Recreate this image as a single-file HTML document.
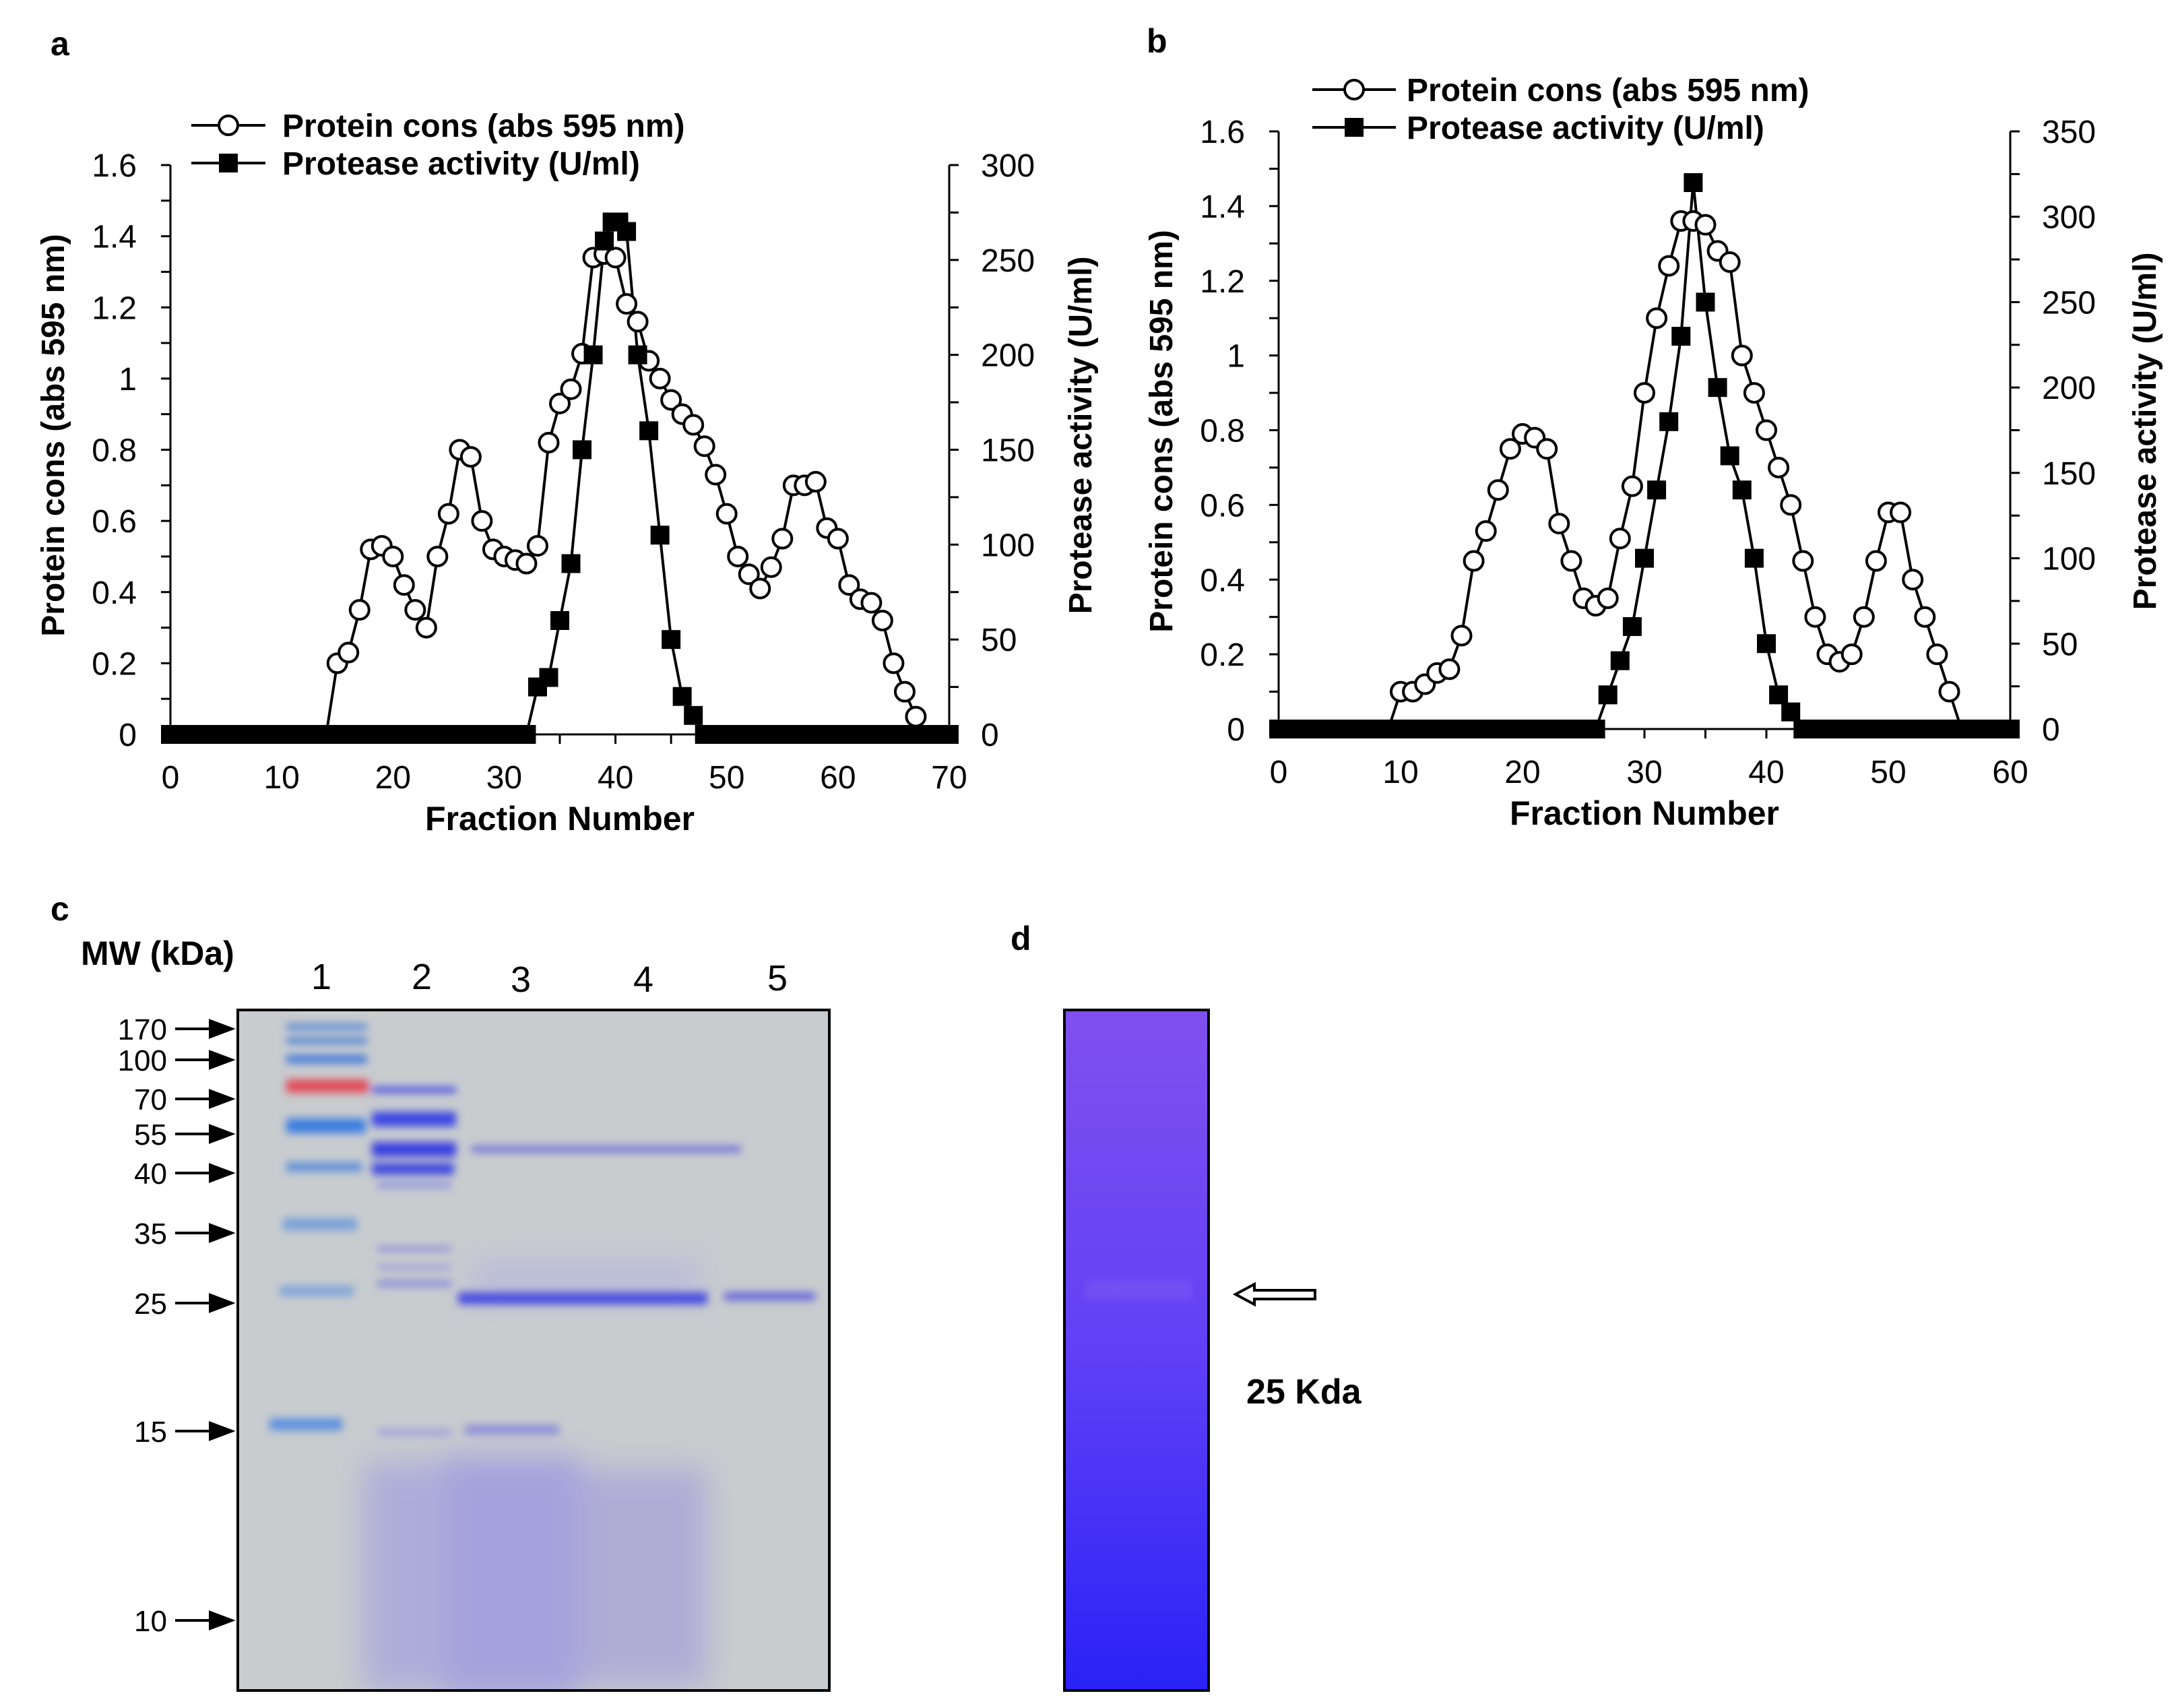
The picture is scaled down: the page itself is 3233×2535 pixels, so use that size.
<!DOCTYPE html>
<html><head><meta charset="utf-8"><style>
html,body{margin:0;padding:0;background:#fff;}
svg{display:block;font-family:"Liberation Sans",Arial,sans-serif;}
</style></head><body>
<svg id="fig" width="3233" height="2535" viewBox="0 0 3233 2535" xmlns="http://www.w3.org/2000/svg">
<defs>
<filter id="blur6" x="-20%" y="-200%" width="140%" height="500%"><feGaussianBlur stdDeviation="6"/></filter>
<filter id="blur20" x="-30%" y="-30%" width="160%" height="160%"><feGaussianBlur stdDeviation="22"/></filter>
<linearGradient id="gelD" x1="0" y1="0" x2="0" y2="1">
<stop offset="0" stop-color="#8050ee"/><stop offset="0.5" stop-color="#6040f6"/><stop offset="1" stop-color="#2a22f6"/>
</linearGradient>
</defs>
<g id="chartA"></g>
<g id="chartB"></g>

<!-- panel c -->
<g>
<text x="75" y="1366" font-size="50" font-weight="bold">c</text>
<text x="120" y="1432" font-size="50" font-weight="bold">MW (kDa)</text>
<g font-size="54" text-anchor="middle">
<text x="477" y="1468">1</text>
<text x="626" y="1468">2</text>
<text x="773" y="1472">3</text>
<text x="955" y="1472">4</text>
<text x="1154" y="1470">5</text>
</g>
<rect x="353" y="1499" width="878" height="1010" fill="#c8cccf"/>
<g clip-path="url(#gelClip)">
<clipPath id="gelClip"><rect x="353" y="1499" width="878" height="1010"/></clipPath>
<g filter="url(#blur20)" opacity="0.8">
<rect x="540" y="2170" width="150" height="340" fill="#a8a6dc"/>
<rect x="660" y="2160" width="200" height="360" fill="#9c98e0"/>
<rect x="860" y="2180" width="190" height="320" fill="#a9a5d8"/>
<rect x="700" y="1870" width="340" height="60" fill="#b8b8dc"/>
</g>
<g filter="url(#blur6)">
<rect x="425" y="1520" width="120" height="8" fill="#4a7fd6"/>
<rect x="425" y="1540" width="120" height="9" fill="#4a7fd6"/>
<rect x="425" y="1566" width="120" height="12" fill="#3f78d8"/>
<rect x="425" y="1602" width="122" height="20" fill="#e24c5a"/>
<rect x="425" y="1660" width="118" height="22" fill="#3e7ee0"/>
<rect x="425" y="1725" width="112" height="14" fill="#5f8fd8"/>
<rect x="420" y="1808" width="110" height="18" fill="#78a0d8"/>
<rect x="415" y="1908" width="110" height="16" fill="#84a6d8"/>
<rect x="400" y="2105" width="108" height="18" fill="#5b90e0"/>
<rect x="552" y="1613" width="125" height="9" fill="#4a50e0"/>
<rect x="552" y="1650" width="125" height="22" fill="#3e46e4"/>
<rect x="552" y="1695" width="125" height="22" fill="#3a40e0"/>
<rect x="552" y="1726" width="122" height="18" fill="#4048e0"/>
<rect x="560" y="1755" width="110" height="8" fill="#8a8ee0"/>
<rect x="560" y="1850" width="110" height="7" fill="#8a8ad8"/>
<rect x="560" y="1877" width="110" height="7" fill="#9a9ad8"/>
<rect x="560" y="1900" width="110" height="10" fill="#8a8ed8"/>
<rect x="560" y="2121" width="110" height="10" fill="#a0a2dc"/>
<rect x="700" y="1701" width="400" height="9" fill="#6a6ad8"/>
<rect x="680" y="1918" width="370" height="18" fill="#4a4ee0"/>
<rect x="1075" y="1918" width="135" height="12" fill="#6464dc"/>
<rect x="690" y="2115" width="140" height="14" fill="#8c8cd8"/>
</g>
</g>
<rect x="353" y="1499" width="878" height="1010" fill="none" stroke="#000" stroke-width="4"/>
<g id="mwMarkers" font-size="44"></g>
</g>

<!-- panel d -->
<g>
<text x="1500" y="1410" font-size="50" font-weight="bold">d</text>
<rect x="1580" y="1499" width="214" height="1010" fill="url(#gelD)" stroke="#000" stroke-width="4"/>
<rect x="1610" y="1900" width="160" height="30" fill="#8a66f0" opacity="0.35" filter="url(#blur6)"/>
<path d="M1834,1921 L1862,1906 L1862,1915 L1952,1915 L1952,1928 L1862,1928 L1862,1936 Z" fill="#fff" stroke="#000" stroke-width="4"/>
<text x="1850" y="2083" font-size="52" font-weight="bold">25 Kda</text>
</g>
</svg>
<script>
// ---- Chart a data ----
const aProtX = [0,1,2,3,4,5,6,7,8,9,10,11,12,13,14,15,16,17,18,19,20,21,22,23,24,25,26,27,28,29,30,31,32,33,34,35,36,37,38,39,40,41,42,43,44,45,46,47,48,49,50,51,52,53,54,55,56,57,58,59,60,61,62,63,64,65,66,67];
const aProtY = [0,0,0,0,0,0,0,0,0,0,0,0,0,0,0,0.2,0.23,0.35,0.52,0.53,0.5,0.42,0.35,0.3,0.5,0.62,0.8,0.78,0.6,0.52,0.5,0.49,0.48,0.53,0.82,0.93,0.97,1.07,1.34,1.35,1.34,1.21,1.16,1.05,1.0,0.94,0.9,0.87,0.81,0.73,0.62,0.5,0.45,0.41,0.47,0.55,0.7,0.7,0.71,0.58,0.55,0.42,0.38,0.37,0.32,0.2,0.12,0.05];
const aActX = [0,1,2,3,4,5,6,7,8,9,10,11,12,13,14,15,16,17,18,19,20,21,22,23,24,25,26,27,28,29,30,31,32,33,34,35,36,37,38,39,39.7,40.3,41,42,43,44,45,46,47,48,49,50,51,52,53,54,55,56,57,58,59,60,61,62,63,64,65,66,67,68,69,70];
const aActY = [0,0,0,0,0,0,0,0,0,0,0,0,0,0,0,0,0,0,0,0,0,0,0,0,0,0,0,0,0,0,0,0,0,25,30,60,90,150,200,260,270,270,265,200,160,105,50,20,10,0,0,0,0,0,0,0,0,0,0,0,0,0,0,0,0,0,0,0,0,0,0,0,0];
const aXTicks = [0,10,20,30,40,50,60,70];
const aYTicks = [0,0.2,0.4,0.6,0.8,1,1.2,1.4,1.6];
const aY2Ticks = [0,50,100,150,200,250,300];
// ---- Chart b data ----
const bProtX = [0,1,2,3,4,5,6,7,8,9,10,11,12,13,14,15,16,17,18,19,20,21,22,23,24,25,26,27,28,29,30,31,32,33,34,35,36,37,38,39,40,41,42,43,44,45,46,47,48,49,50,51,52,53,54,55,56];
const bProtY = [0,0,0,0,0,0,0,0,0,0,0.1,0.1,0.12,0.15,0.16,0.25,0.45,0.53,0.64,0.75,0.79,0.78,0.75,0.55,0.45,0.35,0.33,0.35,0.51,0.65,0.9,1.1,1.24,1.36,1.36,1.35,1.28,1.25,1.0,0.9,0.8,0.7,0.6,0.45,0.3,0.2,0.18,0.2,0.3,0.45,0.58,0.58,0.4,0.3,0.2,0.1,0];
const bActX = [0,1,2,3,4,5,6,7,8,9,10,11,12,13,14,15,16,17,18,19,20,21,22,23,24,25,26,27,28,29,30,31,32,33,34,35,36,37,38,39,40,41,42,43,44,45,46,47,48,49,50,51,52,53,54,55,56,57,58,59,60];
const bActY = [0,0,0,0,0,0,0,0,0,0,0,0,0,0,0,0,0,0,0,0,0,0,0,0,0,0,0,20,40,60,100,140,180,230,320,250,200,160,140,100,50,20,10,0,0,0,0,0,0,0,0,0,0,0,0,0,0,0,0,0,0];
const bXTicks = [0,10,20,30,40,50,60];
const bYTicks = [0,0.2,0.4,0.6,0.8,1,1.2,1.4,1.6];
const bY2Ticks = [0,50,100,150,200,250,300,350];
// ---- MW markers ----
const mwLabels = ["170","100","70","55","40","35","25","15","10"];
const mwY = [1527,1573,1631,1683,1741,1830,1934,2124,2405];

const NS = "http://www.w3.org/2000/svg";
function mk(parent, tag, attrs){ const e=document.createElementNS(NS,tag); for(const k in attrs) e.setAttribute(k,attrs[k]); parent.appendChild(e); return e; }

function drawChart(g, c){
  const sx = v => c.x0 + (v - 0)/(c.xmax) * (c.x1 - c.x0);
  const sy = v => c.yB - v/c.ymax * (c.yB - c.yT);
  const sy2 = v => c.yB - v/c.y2max * (c.yB - c.yT);
  let ax = mk(g,'path',{d:`M${c.x0},${c.yT}V${c.yB}H${c.x1}M${c.x1},${c.yT}V${c.yB}`,stroke:'#000','stroke-width':3,fill:'none'});
  
  
  const ystep = c.yTicks[1]-c.yTicks[0];
  for(let v=0; v<=c.ymax+1e-9; v+=ystep/2){ const t=mk(g,'line',{x1:c.x0-14,x2:c.x0,y1:sy(v),y2:sy(v),stroke:'#000','stroke-width':3});   }
  const y2step = c.y2Ticks[1]-c.y2Ticks[0];
  for(let v=0; v<=c.y2max+1e-9; v+=y2step/2){ const t=mk(g,'line',{x1:c.x1,x2:c.x1+14,y1:sy2(v),y2:sy2(v),stroke:'#000','stroke-width':3});   }
  for(let v=0; v<=c.xmax; v+=5){ const t=mk(g,'line',{x1:sx(v),x2:sx(v),y1:c.yB,y2:c.yB+14,stroke:'#000','stroke-width':3});   }
  c.yTicks.forEach(v=>{ const t=mk(g,'text',{x:c.x0-50,y:sy(v)+17,'font-size':48,'text-anchor':'end'}); t.textContent=String(v);   });
  c.y2Ticks.forEach(v=>{ const t=mk(g,'text',{x:c.x1+47,y:sy2(v)+17,'font-size':48,'text-anchor':'start'}); t.textContent=String(v);   });
  c.xTicks.forEach(v=>{ const t=mk(g,'text',{x:sx(v),y:c.yB+80,'font-size':48,'text-anchor':'middle'}); t.textContent=String(v);   });
  let t=mk(g,'text',{x:(c.x0+c.x1)/2,y:c.yB+142,'font-size':50,'font-weight':'bold','text-anchor':'middle'}); t.textContent='Fraction Number';
   
  t=mk(g,'text',{x:0,y:0,'font-size':48,'font-weight':'bold','text-anchor':'middle',transform:`translate(${c.ytX},${c.ytY}) rotate(-90)`}); t.textContent='Protein cons (abs 595 nm)';
   
  t=mk(g,'text',{x:0,y:0,'font-size':48,'font-weight':'bold','text-anchor':'middle',transform:`translate(${c.y2tX},${c.ytY}) rotate(-90)`}); t.textContent='Protease activity (U/ml)';
   
  let p=mk(g,'polyline',{points:c.protX.map((x,i)=>sx(x)+','+sy(c.protY[i])).join(' '),fill:'none',stroke:'#000','stroke-width':4});
   
  p=mk(g,'polyline',{points:c.actX.map((x,i)=>sx(x)+','+sy2(c.actY[i])).join(' '),fill:'none',stroke:'#000','stroke-width':4});
   
  c.protX.forEach((x,i)=>{ if(c.protY[i]<=0) return; const m=mk(g,'circle',{cx:sx(x),cy:sy(c.protY[i]),r:14,fill:'#fff',stroke:'#000','stroke-width':4});   });
  c.actX.forEach((x,i)=>{ const m=mk(g,'rect',{x:sx(x)-14,y:sy2(c.actY[i])-14,width:28,height:28,fill:'#000'});   });
  t=mk(g,'text',{x:c.lblX,y:c.lblY,'font-size':50,'font-weight':'bold'}); t.textContent=c.label;
   
  const L=c.leg;
  let l=mk(g,'line',{x1:L.x,x2:L.x+L.w,y1:L.y1,y2:L.y1,stroke:'#000','stroke-width':4});  
  l=mk(g,'circle',{cx:L.x+L.w/2,cy:L.y1,r:14,fill:'#fff',stroke:'#000','stroke-width':4});  
  t=mk(g,'text',{x:L.tx,y:L.y1+17,'font-size':48,'font-weight':'bold'}); t.textContent='Protein cons (abs 595 nm)';  
  l=mk(g,'line',{x1:L.x,x2:L.x+L.w,y1:L.y2,y2:L.y2,stroke:'#000','stroke-width':4});  
  l=mk(g,'rect',{x:L.x+L.w/2-14,y:L.y2-14,width:28,height:28,fill:'#000'});  
  t=mk(g,'text',{x:L.tx,y:L.y2+17,'font-size':48,'font-weight':'bold'}); t.textContent='Protease activity (U/ml)';  
}

drawChart(document.getElementById('chartA'),{x0:253,x1:1409,yB:1090,yT:245,xmax:70,ymax:1.6,y2max:300,
  xTicks:aXTicks,yTicks:aYTicks,y2Ticks:aY2Ticks,protX:aProtX,protY:aProtY,actX:aActX,actY:aActY,
  ytX:95,y2tX:1620,ytY:646,label:'a',lblX:75,lblY:82,leg:{x:284,w:110,y1:186,y2:242,tx:419}});
drawChart(document.getElementById('chartB'),{x0:1898,x1:2984,yB:1082,yT:195,xmax:60,ymax:1.6,y2max:350,
  xTicks:bXTicks,yTicks:bYTicks,y2Ticks:bY2Ticks,protX:bProtX,protY:bProtY,actX:bActX,actY:bActY,
  ytX:1740,y2tX:3200,ytY:640,label:'b',lblX:1702,lblY:78,leg:{x:1948,w:124,y1:133,y2:189,tx:2088}});

const mw=document.getElementById('mwMarkers');
mwLabels.forEach((lab,i)=>{
  const y=mwY[i];
  const t=mk(mw,'text',{x:248,y:y+16,'text-anchor':'end'}); t.textContent=lab;
   
  const a=mk(mw,'path',{d:`M260,${y}H318M312,${y-12}L344,${y}L312,${y+12}Z`,stroke:'#000','stroke-width':4,fill:'#000'});
   
});
</script>
</body></html>
